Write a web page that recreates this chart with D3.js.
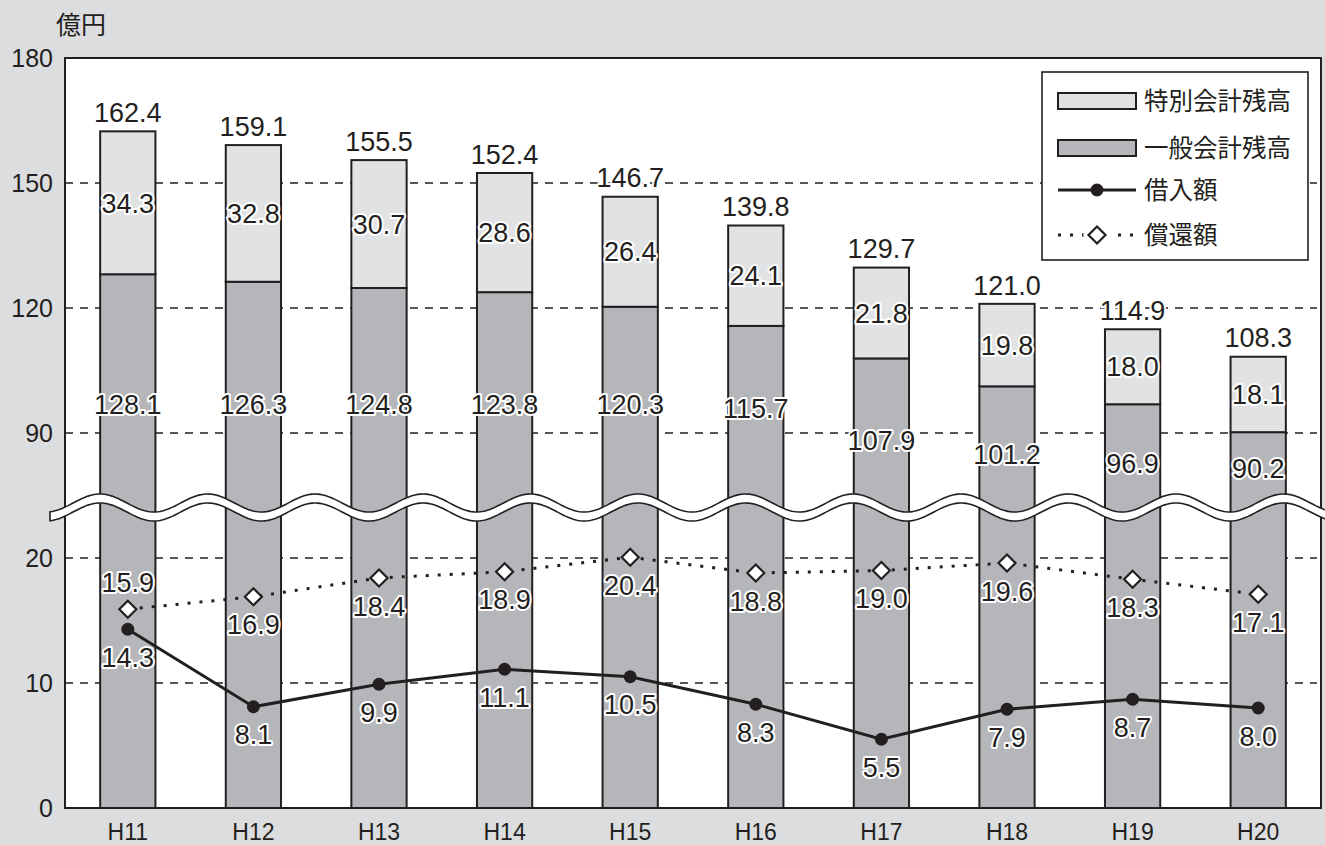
<!DOCTYPE html>
<html>
<head>
<meta charset="utf-8">
<script src="https://cdn.jsdelivr.net/npm/d3@7"></script>
<style>
  body { margin: 0; background: #dcdddf; }
  svg { display: block; }
</style>
</head>
<body>
<div id="chart"></div>
<script>
// --- data ---
const years   = ['H11','H12','H13','H14','H15','H16','H17','H18','H19','H20'];
const general = [128.1, 126.3, 124.8, 123.8, 120.3, 115.7, 107.9, 101.2, 96.9, 90.2];
const special = [34.3, 32.8, 30.7, 28.6, 26.4, 24.1, 21.8, 19.8, 18.0, 18.1];
const borrow  = [14.3, 8.1, 9.9, 11.1, 10.5, 8.3, 5.5, 7.9, 8.7, 8.0];
const repay   = [15.9, 16.9, 18.4, 18.9, 20.4, 18.8, 19.0, 19.6, 18.3, 17.1];
const yTicks  = [0, 10, 20, 90, 120, 150, 180];
const gridAt  = [10, 20, 90, 120, 150];
const legendLabels = ['特別会計残高', '一般会計残高', '借入額', '償還額'];

(function () {
  const W = 1325, H = 845;
  const ink = '#231f20';
  const numFont = '"Liberation Sans", Arial, sans-serif';
  const jpFont  = '"Noto Sans CJK JP", "Noto Sans", sans-serif';

  const plot = { left: 65, right: 1321, top: 58, bottom: 808 };

  const svg = d3.select('#chart').append('svg')
      .attr('width', W).attr('height', H);

  svg.append('rect').attr('width', W).attr('height', H).attr('fill', '#dcdddf');
  svg.append('rect')
    .attr('x', plot.left).attr('y', plot.top)
    .attr('width', plot.right - plot.left).attr('height', plot.bottom - plot.top)
    .attr('fill', '#fff');

  // scales (broken axis: 0-20 below the wave, 90-180 above)
  const x = d3.scaleBand().domain(years)
      .range([plot.left, plot.right])
      .paddingInner(0.56).paddingOuter(0.28);
  const y = d3.scaleLinear()
      .domain([0, 20, 90, 180])
      .range([plot.bottom, 558, 433, plot.top]);
  const cx = d => x(d) + x.bandwidth() / 2;

  // grid
  svg.append('g').selectAll('line').data(gridAt).join('line')
    .attr('x1', plot.left).attr('x2', plot.right - 4)
    .attr('y1', d => y(d)).attr('y2', d => y(d))
    .attr('stroke', ink).attr('stroke-width', 1.3)
    .attr('stroke-dasharray', '8 7');

  // y tick labels
  svg.append('g').selectAll('text').data(yTicks).join('text')
    .attr('x', 53).attr('y', d => y(d)).attr('dy', '0.36em')
    .attr('text-anchor', 'end')
    .style('font-family', numFont).style('font-size', '25px')
    .attr('fill', ink).text(d => d);

  // unit
  svg.append('text').attr('x', 56).attr('y', 34)
    .style('font-family', jpFont).style('font-size', '25px')
    .attr('fill', ink).text('億円');

  // x labels
  svg.append('g').selectAll('text').data(years).join('text')
    .attr('x', d => cx(d)).attr('y', 840)
    .attr('text-anchor', 'middle')
    .style('font-family', numFont).style('font-size', '23px')
    .attr('fill', ink).text(d => d);

  // bars
  const bars = years.map((yr, i) => ({
    yr, g: general[i], s: special[i], t: +(general[i] + special[i]).toFixed(1)
  }));
  const gb = svg.append('g');
  gb.selectAll('rect.gen').data(bars).join('rect')
    .attr('class', 'gen')
    .attr('x', d => x(d.yr)).attr('width', x.bandwidth())
    .attr('y', d => y(d.g)).attr('height', d => y(0) - y(d.g))
    .attr('fill', '#b5b6ba').attr('stroke', ink).attr('stroke-width', 2);
  gb.selectAll('rect.spe').data(bars).join('rect')
    .attr('class', 'spe')
    .attr('x', d => x(d.yr)).attr('width', x.bandwidth())
    .attr('y', d => y(d.t)).attr('height', d => y(d.g) - y(d.t))
    .attr('fill', '#e1e2e4').attr('stroke', ink).attr('stroke-width', 2);

  // frame
  svg.append('rect')
    .attr('x', plot.left).attr('y', plot.top)
    .attr('width', plot.right - plot.left).attr('height', plot.bottom - plot.top)
    .attr('fill', 'none').attr('stroke', ink).attr('stroke-width', 2);

  // the wavy break band
  const waveX = d3.range(50, 1332, 2);
  const period = 107.6, amp = 9, mid = 507.5, half = 4.5;
  const wy = xx => mid - amp * Math.cos(2 * Math.PI * (xx - 100) / period);
  const top = waveX.map(xx => [xx, wy(xx) - half]);
  const bot = waveX.slice().reverse().map(xx => [xx, wy(xx) + half]);
  svg.append('path')
    .attr('d', d3.line()(top.concat(bot)) + 'Z')
    .attr('fill', '#fff').attr('stroke', ink).attr('stroke-width', 1.6);

  // lines
  const line = d3.line().x((d, i) => cx(years[i])).y(d => y(d));
  svg.append('path').datum(repay).attr('d', line)
    .attr('fill', 'none').attr('stroke', ink).attr('stroke-width', 3)
    .attr('stroke-dasharray', '3 9');
  svg.append('path').datum(borrow).attr('d', line)
    .attr('fill', 'none').attr('stroke', ink).attr('stroke-width', 3);

  const diamond = 'M0,-8.5L8.5,0L0,8.5L-8.5,0Z';
  svg.append('g').selectAll('path').data(repay).join('path')
    .attr('d', diamond)
    .attr('transform', (d, i) => `translate(${cx(years[i])},${y(d)})`)
    .attr('fill', '#fff').attr('stroke', ink).attr('stroke-width', 2.2);
  svg.append('g').selectAll('circle').data(borrow).join('circle')
    .attr('cx', (d, i) => cx(years[i])).attr('cy', d => y(d)).attr('r', 6.5)
    .attr('fill', ink);

  // value labels with white halo
  const label = (g, xx, yy, txt) => g.append('text')
    .attr('x', xx).attr('y', yy).attr('dy', '0.36em')
    .attr('text-anchor', 'middle')
    .style('font-family', numFont).style('font-size', '27px')
    .attr('fill', ink).attr('stroke', '#fff').attr('stroke-width', 4)
    .attr('paint-order', 'stroke').attr('stroke-linejoin', 'round')
    .text(txt);

  const lg = svg.append('g');
  bars.forEach(d => {
    const c = cx(d.yr);
    label(lg, c, y(d.t) - 19, d.t.toFixed(1));
    label(lg, c, (y(d.t) + y(d.g)) / 2, d.s.toFixed(1));
    const yt = y(d.g);
    const gy = Math.min(468, Math.max(y(97), Math.min(yt + 82, (yt + 522) / 2)));
    label(lg, c, gy, d.g.toFixed(1));
  });
  borrow.forEach((v, i) => label(lg, cx(years[i]), y(v) + 28, v.toFixed(1)));
  repay.forEach((v, i) => {
    const close = Math.abs(y(v) - y(borrow[i])) < 40;
    label(lg, cx(years[i]), y(v) + (close ? -27 : 28), v.toFixed(1));
  });

  // legend
  const leg = svg.append('g');
  leg.append('rect').attr('x', 1042).attr('y', 72).attr('width', 266).attr('height', 188)
    .attr('fill', '#fff').attr('stroke', ink).attr('stroke-width', 1.6);
  const rowY = [101, 148, 190, 235];
  const sx0 = 1058, sx1 = 1136, smid = 1097;
  leg.append('rect').attr('x', sx0).attr('y', rowY[0] - 8).attr('width', sx1 - sx0).attr('height', 16)
    .attr('fill', '#e1e2e4').attr('stroke', ink).attr('stroke-width', 2);
  leg.append('rect').attr('x', sx0).attr('y', rowY[1] - 8).attr('width', sx1 - sx0).attr('height', 16)
    .attr('fill', '#b5b6ba').attr('stroke', ink).attr('stroke-width', 2);
  leg.append('line').attr('x1', sx0).attr('x2', sx1).attr('y1', rowY[2]).attr('y2', rowY[2])
    .attr('stroke', ink).attr('stroke-width', 3);
  leg.append('circle').attr('cx', smid).attr('cy', rowY[2]).attr('r', 6.5).attr('fill', ink);
  leg.append('line').attr('x1', sx0).attr('x2', sx1).attr('y1', rowY[3]).attr('y2', rowY[3])
    .attr('stroke', ink).attr('stroke-width', 3).attr('stroke-dasharray', '3 9');
  leg.append('path').attr('d', diamond)
    .attr('transform', `translate(${smid},${rowY[3]})`)
    .attr('fill', '#fff').attr('stroke', '#fff').attr('stroke-width', 8);
  leg.append('path').attr('d', diamond)
    .attr('transform', `translate(${smid},${rowY[3]})`)
    .attr('fill', '#fff').attr('stroke', ink).attr('stroke-width', 2.2);
  leg.selectAll('text.lt').data(legendLabels).join('text')
    .attr('class', 'lt')
    .attr('x', 1144).attr('y', (d, i) => rowY[i]).attr('dy', '0.36em')
    .style('font-family', jpFont).style('font-size', '24.5px')
    .attr('fill', ink).text(d => d);
})();
</script>
</body>
</html>
